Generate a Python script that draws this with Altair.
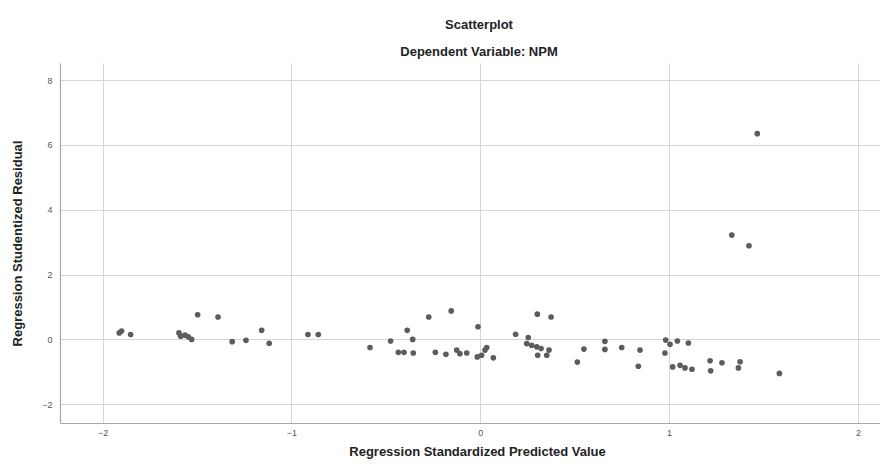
import altair as alt
import pandas as pd

pred = [-1.912, -1.900, -1.852, -1.596, -1.587, -1.564, -1.547, -1.529, -1.497, -1.389,
        -1.314, -1.241, -1.158, -1.118, -0.913, -0.858,
        -0.584, -0.475, -0.387, -0.358, -0.434, -0.404, -0.355, -0.273, -0.238, -0.182,
        -0.154, -0.125, -0.108, -0.072, -0.012, -0.016, 0.007, 0.025, 0.034, 0.069,
        0.187, 0.254, 0.246, 0.272, 0.299, 0.322, 0.302, 0.375, 0.304, 0.352, 0.364,
        0.514, 0.549,
        0.660, 0.660, 0.749, 0.846, 0.837, 0.982, 1.005, 1.044, 0.978, 1.102, 1.019,
        1.058, 1.084, 1.121, 1.217, 1.220, 1.280, 1.367, 1.376, 1.584,
        1.467, 1.332, 1.423]
resid = [0.20, 0.26, 0.15, 0.20, 0.10, 0.13, 0.08, 0.00, 0.76, 0.69,
         -0.07, -0.03, 0.28, -0.12, 0.15, 0.15,
         -0.25, -0.05, 0.28, 0.00, -0.40, -0.40, -0.42, 0.69, -0.40, -0.46,
         0.88, -0.33, -0.44, -0.42, 0.39, -0.54, -0.49, -0.33, -0.25, -0.57,
         0.16, 0.06, -0.13, -0.18, -0.23, -0.28, 0.78, 0.69, -0.49, -0.49, -0.33,
         -0.70, -0.30,
         -0.06, -0.31, -0.25, -0.33, -0.83, -0.02, -0.15, -0.05, -0.42, -0.11, -0.85,
         -0.80, -0.88, -0.92, -0.66, -0.97, -0.72, -0.88, -0.69, -1.05,
         6.35, 3.22, 2.89]

x_ticks = [-2, -1, 0, 1, 2]
y_ticks = [-2, 0, 2, 4, 6, 8]

df = pd.DataFrame({"pred": pred, "resid": resid})

FONT = "Liberation Sans"

chart = alt.Chart(df).mark_circle(size=32, color="#5c5c5c", opacity=1).encode(
    x=alt.X("pred:Q",
            scale=alt.Scale(domain=[-2.226, 2.117], nice=False, zero=False),
            axis=alt.Axis(values=x_ticks, title="Regression Standardized Predicted Value",
                          format="d", ticks=False, labelPadding=5,
                          titleX=417, titleY=32, titleBaseline="alphabetic",
                          titleAlign="center")),
    y=alt.Y("resid:Q",
            scale=alt.Scale(domain=[-2.58, 8.53], nice=False, zero=False),
            axis=alt.Axis(values=y_ticks, title="Regression Studentized Residual",
                          format="d", ticks=False, labelPadding=8,
                          titleX=-43, titleY=180, titleAngle=270,
                          titleAlign="center", titleBaseline="middle")),
).properties(
    width=820,
    height=360,
    padding={"left": 52, "top": 55, "right": 0, "bottom": 37},
    autosize=alt.AutoSizeParams(type="none"),
    title=alt.TitleParams(
        text=["Scatterplot", "Dependent Variable: NPM"],
        fontSize=13, fontWeight="bold", font=FONT, color="#222222",
        lineHeight=27, offset=5, anchor="middle", dx=9, dy=1,
    ),
).configure_view(
    stroke=None
).configure_axis(
    grid=True, gridColor="#d6d6d6", gridWidth=1,
    domainColor="#a8a8a8", domainWidth=1.2,
    labelFont=FONT, labelFontSize=9, labelColor="#555555",
    titleFont=FONT, titleFontSize=13, titleFontWeight="bold", titleColor="#222222",
)

chart.save("out.html", embed_options={"renderer": "svg", "actions": False})
